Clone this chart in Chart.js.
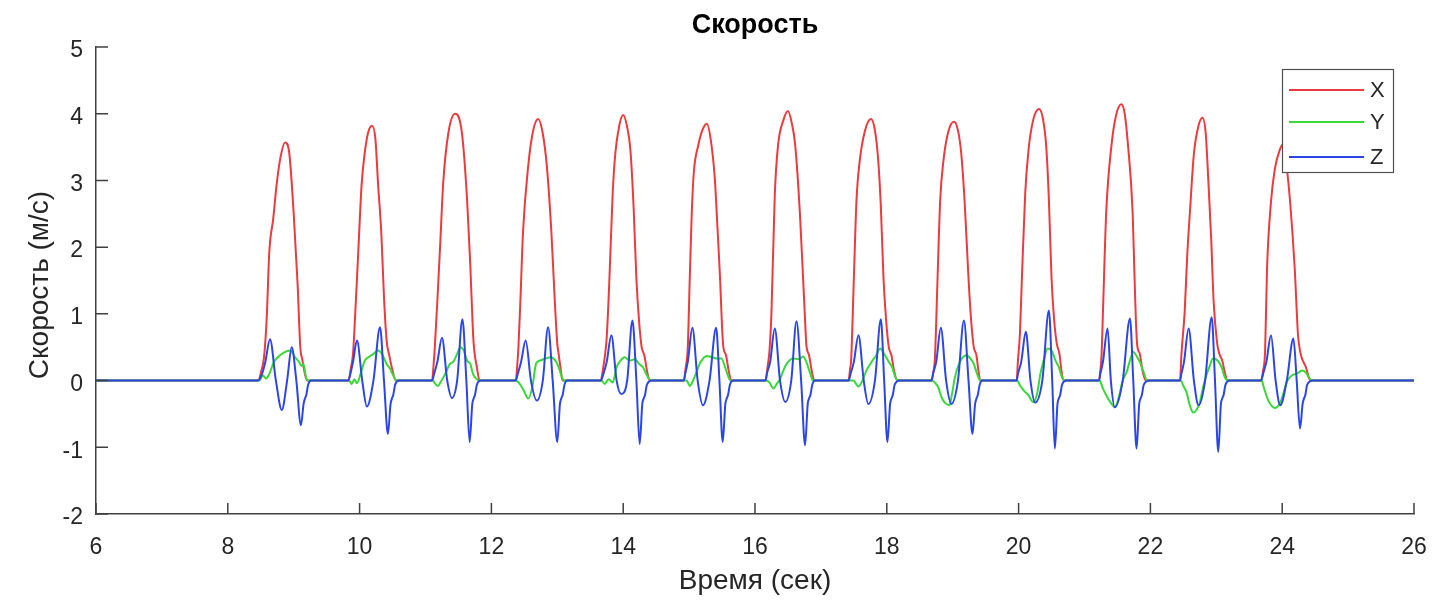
<!DOCTYPE html>
<html>
<head>
<meta charset="utf-8">
<title>Скорость</title>
<script src="https://cdn.jsdelivr.net/npm/chart.js@4.4.1/dist/chart.umd.min.js"></script>
<style>
  html, body { margin: 0; padding: 0; background: #ffffff; }
  #wrap { position: relative; width: 1441px; height: 602px; }
</style>
</head>
<body>
<div id="wrap"><canvas id="speedChart"></canvas></div>
<script>
// Texts
var chartTitle = 'Скорость';
var xAxisTitle = 'Время (сек)';
var yAxisTitle = 'Скорость (м/с)';

// Axis ticks
var xTicks = [6, 8, 10, 12, 14, 16, 18, 20, 22, 24, 26];
var yTicks = [-2, -1, 0, 1, 2, 3, 4, 5];

// Series: [time, velocity], one pulse per line
var velX = [
  [6, 0],
  [8.46, 0], [8.51, 0.15], [8.55, 0.35], [8.59, 0.93], [8.63, 1.93], [8.69, 2.43], [8.74, 2.93], [8.8, 3.35], [8.87, 3.57], [8.93, 3.43], [9.0, 2.5], [9.06, 1.43], [9.1, 0.5], [9.13, 0.32], [9.17, 0.1], [9.21, 0],
  [9.83, 0], [9.87, 0.2], [9.9, 0.4], [9.93, 0.93], [9.98, 1.93], [10.03, 2.93], [10.08, 3.43], [10.13, 3.72], [10.19, 3.82], [10.24, 3.62], [10.28, 2.95], [10.33, 2.2], [10.37, 1.25], [10.41, 0.6], [10.45, 0.38], [10.5, 0.15], [10.55, 0],
  [11.10, 0], [11.12, 0.2], [11.14, 0.48], [11.18, 1.2], [11.22, 1.98], [11.27, 2.98], [11.35, 3.73], [11.45, 4.0], [11.55, 3.73], [11.63, 2.73], [11.68, 1.73], [11.72, 0.73], [11.74, 0.45], [11.78, 0.2], [11.82, 0],
  [12.37, 0], [12.39, 0.2], [12.41, 0.5], [12.44, 1.2], [12.48, 2.23], [12.56, 3.23], [12.63, 3.73], [12.71, 3.92], [12.78, 3.7], [12.84, 3.23], [12.91, 2.23], [12.96, 1.23], [13.0, 0.55], [13.02, 0.4], [13.05, 0.18], [13.08, 0],
  [13.66, 0], [13.69, 0.15], [13.72, 0.35], [13.75, 0.65], [13.79, 1.5], [13.84, 2.8], [13.88, 3.4], [13.94, 3.82], [14.0, 3.98], [14.06, 3.8], [14.11, 3.45], [14.16, 2.55], [14.2, 1.53], [14.24, 0.9], [14.28, 0.5], [14.32, 0.38], [14.36, 0.15], [14.4, 0],
  [14.92, 0], [14.95, 0.2], [14.98, 0.5], [15.01, 1.53], [15.04, 2.5], [15.07, 3.1], [15.14, 3.53], [15.2, 3.75], [15.27, 3.85], [15.33, 3.6], [15.39, 3.03], [15.43, 2.3], [15.47, 1.53], [15.5, 0.8], [15.52, 0.5], [15.56, 0.38], [15.6, 0.15], [15.64, 0],
  [16.16, 0], [16.19, 0.2], [16.22, 0.45], [16.25, 1.03], [16.3, 2.78], [16.35, 3.53], [16.43, 3.9], [16.5, 4.04], [16.56, 3.85], [16.61, 3.53], [16.68, 2.53], [16.73, 1.53], [16.76, 0.9], [16.78, 0.53], [16.82, 0.38], [16.86, 0.15], [16.9, 0],
  [17.42, 0], [17.44, 0.15], [17.46, 0.33], [17.5, 1.53], [17.54, 2.7], [17.59, 3.3], [17.67, 3.75], [17.76, 3.92], [17.82, 3.75], [17.87, 3.3], [17.91, 2.6], [17.95, 1.53], [17.99, 0.9], [18.03, 0.5], [18.07, 0.38], [18.11, 0.15], [18.16, 0],
  [18.68, 0], [18.71, 0.15], [18.73, 0.33], [18.77, 1.53], [18.81, 2.7], [18.86, 3.3], [18.93, 3.72], [19.02, 3.88], [19.08, 3.75], [19.13, 3.4], [19.18, 2.7], [19.24, 1.53], [19.28, 0.9], [19.32, 0.5], [19.36, 0.38], [19.39, 0.15], [19.42, 0],
  [19.97, 0], [19.99, 0.3], [20.02, 0.7], [20.05, 1.53], [20.1, 2.8], [20.15, 3.45], [20.22, 3.9], [20.31, 4.07], [20.37, 3.92], [20.42, 3.5], [20.46, 2.7], [20.5, 1.53], [20.54, 0.9], [20.58, 0.55], [20.62, 0.4], [20.65, 0.15], [20.68, 0],
  [21.22, 0], [21.24, 0.15], [21.26, 0.4], [21.28, 1.03], [21.33, 2.53], [21.41, 3.53], [21.48, 3.98], [21.56, 4.14], [21.61, 4.0], [21.66, 3.53], [21.73, 2.53], [21.76, 1.53], [21.78, 0.9], [21.8, 0.53], [21.84, 0.4], [21.88, 0.15], [21.93, 0],
  [22.45, 0], [22.47, 0.38], [22.52, 1.03], [22.56, 1.9], [22.6, 2.53], [22.66, 3.4], [22.73, 3.82], [22.79, 3.94], [22.84, 3.7], [22.87, 3.18], [22.92, 2.18], [22.96, 1.18], [23.01, 0.58], [23.04, 0.42], [23.09, 0.3], [23.13, 0.12], [23.17, 0],
  [23.68, 0], [23.71, 0.15], [23.74, 0.43], [23.77, 1.68], [23.83, 2.68], [23.89, 3.18], [23.96, 3.45], [24.02, 3.55], [24.08, 3.1], [24.12, 2.68], [24.19, 1.68], [24.24, 0.68], [24.27, 0.45], [24.3, 0.33], [24.36, 0.2], [24.4, 0.06], [24.43, 0],
  [26, 0]
];

var velY = [
  [6, 0],
  [8.48, 0], [8.53, 0.08], [8.58, 0.03], [8.63, 0.1], [8.7, 0.28], [8.76, 0.35], [8.85, 0.42], [8.95, 0.45], [9.02, 0.35], [9.08, 0.28], [9.12, 0.22], [9.15, 0.25], [9.18, 0.08], [9.22, 0],
  [9.84, 0], [9.88, -0.05], [9.92, 0.02], [9.96, -0.04], [10.02, 0.12], [10.08, 0.3], [10.15, 0.36], [10.21, 0.4], [10.28, 0.45], [10.35, 0.38], [10.41, 0.25], [10.46, 0.18], [10.5, 0.1], [10.56, 0],
  [11.11, 0], [11.15, -0.05], [11.19, -0.08], [11.23, -0.02], [11.3, 0.1], [11.37, 0.25], [11.42, 0.28], [11.48, 0.4], [11.53, 0.5], [11.58, 0.45], [11.63, 0.3], [11.68, 0.25], [11.72, 0.1], [11.78, 0.02], [11.82, 0],
  [12.37, 0], [12.43, -0.05], [12.49, -0.15], [12.56, -0.27], [12.62, -0.1], [12.68, 0.26], [12.74, 0.3], [12.82, 0.33], [12.9, 0.35], [12.97, 0.3], [13.02, 0.2], [13.06, 0.08], [13.1, 0],
  [13.67, 0], [13.72, -0.05], [13.78, 0.02], [13.84, -0.03], [13.9, 0.2], [13.96, 0.3], [14.02, 0.35], [14.1, 0.3], [14.18, 0.32], [14.24, 0.25], [14.3, 0.2], [14.36, 0.08], [14.42, 0],
  [14.93, 0], [14.96, 0], [15.01, -0.08], [15.06, 0], [15.12, 0.15], [15.17, 0.27], [15.27, 0.37], [15.35, 0.35], [15.42, 0.33], [15.49, 0.33], [15.54, 0.22], [15.58, 0.1], [15.63, 0],
  [16.17, 0], [16.22, -0.03], [16.28, -0.12], [16.33, -0.05], [16.38, 0.02], [16.43, 0.15], [16.48, 0.25], [16.58, 0.33], [16.66, 0.32], [16.73, 0.36], [16.79, 0.25], [16.84, 0.1], [16.88, 0],
  [17.43, 0], [17.49, 0], [17.57, -0.09], [17.63, 0], [17.69, 0.15], [17.77, 0.28], [17.84, 0.38], [17.9, 0.48], [17.96, 0.4], [18.03, 0.28], [18.08, 0.2], [18.13, 0.05], [18.17, 0],
  [18.69, 0], [18.73, -0.03], [18.78, -0.1], [18.83, -0.25], [18.88, -0.33], [18.95, -0.37], [18.99, -0.2], [19.03, 0.03], [19.11, 0.28], [19.21, 0.38], [19.27, 0.33], [19.32, 0.25], [19.37, 0.1], [19.42, 0],
  [19.98, 0], [20.02, -0.07], [20.08, -0.15], [20.15, -0.22], [20.22, -0.32], [20.28, -0.2], [20.33, 0.1], [20.38, 0.3], [20.44, 0.48], [20.5, 0.45], [20.56, 0.3], [20.61, 0.2], [20.66, 0.05], [20.7, 0],
  [21.23, 0], [21.28, -0.12], [21.33, -0.22], [21.39, -0.32], [21.46, -0.4], [21.52, -0.25], [21.58, 0], [21.64, 0.13], [21.69, 0.3], [21.74, 0.43], [21.8, 0.35], [21.84, 0.28], [21.9, 0.12], [21.95, 0],
  [22.46, 0], [22.5, -0.08], [22.55, -0.18], [22.6, -0.38], [22.65, -0.48], [22.7, -0.44], [22.75, -0.33], [22.8, -0.1], [22.85, 0.08], [22.9, 0.22], [22.95, 0.33], [23.02, 0.3], [23.08, 0.2], [23.13, 0.05], [23.18, 0],
  [23.69, 0], [23.72, -0.1], [23.79, -0.3], [23.89, -0.41], [23.96, -0.35], [24.0, -0.25], [24.07, -0.02], [24.15, 0.08], [24.22, 0.1], [24.3, 0.15], [24.36, 0.12], [24.41, 0.04], [24.45, 0],
  [26, 0]
];

var velZ = [
  [6, 0],
  [8.46, 0], [8.52, 0.1], [8.57, 0.28], [8.64, 0.62], [8.73, 0], [8.82, -0.44], [8.9, 0], [8.97, 0.5], [9.04, 0], [9.11, -0.67], [9.15, -0.35], [9.17, -0.27], [9.19, -0.22], [9.22, -0.06], [9.27, 0],
  [9.83, 0], [9.86, 0.1], [9.9, 0.28], [9.96, 0.6], [10.04, 0], [10.11, -0.39], [10.21, 0], [10.31, 0.8], [10.37, 0], [10.43, -0.8], [10.47, -0.35], [10.49, -0.27], [10.51, -0.22], [10.54, -0.06], [10.6, 0],
  [11.10, 0], [11.13, 0.1], [11.18, 0.28], [11.25, 0.64], [11.33, 0], [11.40, -0.26], [11.48, 0], [11.56, 0.92], [11.62, 0], [11.67, -0.92], [11.71, -0.35], [11.73, -0.27], [11.75, -0.22], [11.78, -0.06], [11.84, 0],
  [12.37, 0], [12.40, 0.1], [12.45, 0.28], [12.52, 0.6], [12.6, 0], [12.69, -0.3], [12.78, 0], [12.86, 0.8], [12.93, 0], [13.0, -0.92], [13.04, -0.35], [13.06, -0.27], [13.08, -0.22], [13.11, -0.06], [13.15, 0],
  [13.66, 0], [13.70, 0.1], [13.75, 0.28], [13.82, 0.68], [13.9, 0], [13.97, -0.2], [14.06, 0], [14.14, 0.9], [14.2, 0], [14.25, -0.95], [14.29, -0.35], [14.31, -0.27], [14.33, -0.22], [14.36, -0.06], [14.44, 0],
  [14.92, 0], [14.94, 0.1], [14.98, 0.28], [15.05, 0.79], [15.13, 0], [15.21, -0.37], [15.31, 0], [15.41, 0.79], [15.46, 0], [15.51, -0.92], [15.55, -0.35], [15.57, -0.27], [15.59, -0.22], [15.62, -0.06], [15.67, 0],
  [16.16, 0], [16.18, 0.1], [16.23, 0.28], [16.30, 0.78], [16.38, 0], [16.46, -0.32], [16.55, 0], [16.63, 0.89], [16.7, 0], [16.76, -0.97], [16.8, -0.35], [16.82, -0.27], [16.84, -0.22], [16.87, -0.06], [16.91, 0],
  [17.42, 0], [17.45, 0.1], [17.5, 0.28], [17.57, 0.68], [17.65, 0], [17.72, -0.35], [17.82, 0], [17.91, 0.92], [17.96, 0], [18.01, -0.92], [18.05, -0.35], [18.07, -0.27], [18.09, -0.22], [18.12, -0.06], [18.2, 0],
  [18.68, 0], [18.70, 0.1], [18.75, 0.28], [18.82, 0.79], [18.9, 0], [18.98, -0.35], [19.08, 0], [19.17, 0.9], [19.24, 0], [19.30, -0.8], [19.34, -0.35], [19.36, -0.27], [19.38, -0.22], [19.41, -0.06], [19.45, 0],
  [19.97, 0], [19.99, 0.1], [20.04, 0.28], [20.11, 0.73], [20.18, 0], [20.25, -0.33], [20.36, 0], [20.46, 1.05], [20.51, 0], [20.55, -1.02], [20.59, -0.35], [20.61, -0.27], [20.63, -0.22], [20.66, -0.06], [20.73, 0],
  [21.22, 0], [21.24, 0.1], [21.28, 0.28], [21.35, 0.78], [21.4, 0], [21.46, -0.4], [21.58, 0], [21.69, 0.93], [21.74, 0], [21.79, -1.02], [21.83, -0.35], [21.85, -0.27], [21.87, -0.22], [21.9, -0.06], [21.99, 0],
  [22.45, 0], [22.47, 0.1], [22.51, 0.28], [22.58, 0.78], [22.66, 0], [22.73, -0.37], [22.83, 0], [22.93, 0.95], [22.98, 0], [23.03, -1.07], [23.07, -0.35], [23.09, -0.27], [23.11, -0.22], [23.14, -0.06], [23.21, 0],
  [23.68, 0], [23.71, 0.1], [23.76, 0.28], [23.83, 0.68], [23.9, 0], [23.97, -0.37], [24.07, 0], [24.17, 0.63], [24.22, 0], [24.27, -0.72], [24.31, -0.35], [24.33, -0.27], [24.35, -0.22], [24.38, -0.06], [24.47, 0],
  [26, 0]
];

var FONT = '"Liberation Sans", Arial, Helvetica, sans-serif';
var AXIS_COLOR = '#404040';

function toPoints(arr) {
  return arr.map(function (p) { return { x: p[0], y: p[1] }; });
}

// inward ticks, titles and MATLAB-like boxed legend
var overlay = {
  id: 'overlay',
  afterDraw: function (chart) {
    var ctx = chart.ctx, a = chart.chartArea;
    var xs = chart.scales.x, ys = chart.scales.y;
    ctx.save();

    ctx.strokeStyle = AXIS_COLOR;
    ctx.lineWidth = 1.5;
    ctx.beginPath();
    xTicks.forEach(function (v) {
      var px = xs.getPixelForValue(v);
      ctx.moveTo(px, a.bottom);
      ctx.lineTo(px, a.bottom - 11);
    });
    yTicks.forEach(function (v) {
      var py = ys.getPixelForValue(v);
      ctx.moveTo(a.left, py);
      ctx.lineTo(a.left + 12, py);
    });
    ctx.stroke();

    ctx.fillStyle = '#000';
    ctx.textAlign = 'center';
    ctx.textBaseline = 'middle';
    var cx = (a.left + a.right) / 2;
    ctx.font = 'bold 27px ' + FONT;
    ctx.fillText(chartTitle, cx, 26);
    ctx.fillStyle = '#262626';
    ctx.font = '28px ' + FONT;
    ctx.fillText(xAxisTitle, cx, 581);
    ctx.save();
    ctx.translate(40, 285);
    ctx.rotate(-Math.PI / 2);
    ctx.fillText(yAxisTitle, 0, 0);
    ctx.restore();

    // legend
    var lx = a.right - 132, ly = a.top + 22, lw = 111, lh = 103;
    ctx.fillStyle = '#ffffff';
    ctx.fillRect(lx, ly, lw, lh);
    ctx.strokeStyle = '#505050';
    ctx.lineWidth = 1.2;
    ctx.strokeRect(lx + 0.5, ly + 0.5, lw, lh);
    var rows = [21, 53, 88];
    ctx.font = '22px ' + FONT;
    ctx.textAlign = 'left';
    chart.data.datasets.forEach(function (ds, i) {
      var yy = ly + rows[i];
      ctx.strokeStyle = ds.borderColor;
      ctx.lineWidth = 2;
      ctx.beginPath();
      ctx.moveTo(lx + 7, yy);
      ctx.lineTo(lx + 82, yy);
      ctx.stroke();
      ctx.fillStyle = '#262626';
      ctx.fillText(ds.label, lx + 88, yy + 1);
    });
    ctx.restore();
  }
};

var tickFont = { family: FONT, size: 23 };

new Chart(document.getElementById('speedChart').getContext('2d'), {
  type: 'line',
  data: {
    datasets: [
      { label: 'X', data: toPoints(velX), borderColor: '#ec3a3e', order: 3 },
      { label: 'Y', data: toPoints(velY), borderColor: '#38d838', order: 2 },
      { label: 'Z', data: toPoints(velZ), borderColor: '#2c46e6', order: 1 }
    ]
  },
  options: {
    responsive: true, maintainAspectRatio: false, animation: false,
    elements: {
      line: { borderWidth: 2, cubicInterpolationMode: 'monotone', fill: false },
      point: { radius: 0, hoverRadius: 0 }
    },
    layout: { padding: { left: 0, top: 47, right: 27, bottom: 0 } },
    plugins: { legend: { display: false }, tooltip: { enabled: false } },
    scales: {
      x: {
        type: 'linear', min: 6, max: 26,
        afterBuildTicks: function (s) { s.ticks = xTicks.map(function (v) { return { value: v }; }); },
        afterFit: function (s) { s.height = 88; s.paddingLeft = 0; s.paddingRight = 0; },
        grid: { display: true, drawOnChartArea: false, drawTicks: false },
        border: { display: true, color: AXIS_COLOR, width: 1.5 },
        ticks: { padding: 20, color: '#262626', font: tickFont, maxRotation: 0, autoSkip: false }
      },
      y: {
        type: 'linear', min: -2, max: 5,
        afterBuildTicks: function (s) { s.ticks = yTicks.map(function (v) { return { value: v }; }); },
        afterFit: function (s) { s.width = 96; s.paddingTop = 0; s.paddingBottom = 0; },
        grid: { display: true, drawOnChartArea: false, drawTicks: false },
        border: { display: true, color: AXIS_COLOR, width: 1.5 },
        ticks: { padding: 13, labelOffset: 4, color: '#262626', font: tickFont, autoSkip: false }
      }
    }
  },
  plugins: [overlay]
});
</script>
</body>
</html>
